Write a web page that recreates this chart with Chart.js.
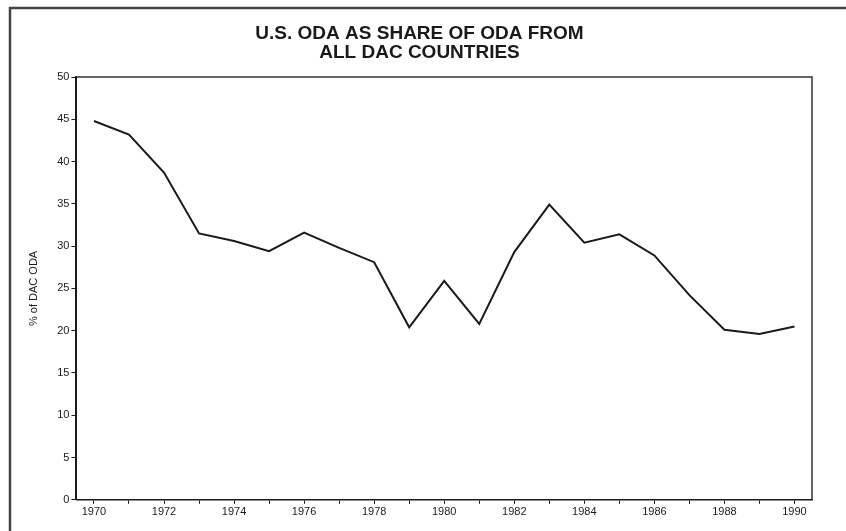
<!DOCTYPE html>
<html>
<head>
<meta charset="utf-8">
<script src="https://cdn.jsdelivr.net/npm/chart.js@4/dist/chart.umd.min.js"></script>
<style>
  html, body { margin: 0; padding: 0; background: #fff; }
  #wrap { width: 846px; height: 531px; position: relative; }
</style>
</head>
<body>
<div id="wrap"><canvas id="odaChart"></canvas></div>
<script>
// years on the x axis (labels shown every 2 years)
var years = ['1970', '1971', '1972', '1973', '1974', '1975', '1976', '1977', '1978', '1979', '1980',
             '1981', '1982', '1983', '1984', '1985', '1986', '1987', '1988', '1989', '1990'];
// U.S. share of DAC ODA, percent
var usShare = [44.8, 43.2, 38.7, 31.5, 30.6, 29.4, 31.6, 29.8, 28.1, 20.4, 25.9,
               20.8, 29.3, 34.9, 30.4, 31.4, 28.9, 24.2, 20.1, 19.6, 20.5];
var yTicks = { min: 0, max: 50, step: 5 };

var ink = '#1a1a1a';

// white page, box around plot area and the outer frame of the scan
var framePlugin = {
  id: 'frame',
  beforeDraw: function(chart) {
    var ctx = chart.ctx;
    ctx.save();
    ctx.fillStyle = '#fff';
    ctx.fillRect(0, 0, chart.width, chart.height);
    ctx.restore();
  },
  afterDraw: function(chart) {
    var ctx = chart.ctx;
    var a = chart.chartArea;
    ctx.save();
    ctx.strokeStyle = '#333';
    ctx.lineWidth = 1.5;
    ctx.beginPath();
    ctx.moveTo(a.left, a.top);
    ctx.lineTo(a.right, a.top);
    ctx.lineTo(a.right, a.bottom);
    ctx.stroke();
    // outer frame (only top and left edge are inside the picture)
    ctx.strokeStyle = '#444';
    ctx.lineWidth = 2.5;
    ctx.beginPath();
    ctx.moveTo(10, 560);
    ctx.lineTo(10, 8);
    ctx.lineTo(860, 8);
    ctx.stroke();
    ctx.restore();
  }
};

var ctx = document.getElementById('odaChart').getContext('2d');
new Chart(ctx, {
  type: 'line',
  data: {
    labels: years,
    datasets: [{
      label: 'U.S. ODA share',
      data: usShare,
      borderColor: ink,
      borderWidth: 2,
      pointRadius: 0,
      tension: 0,
      fill: false
    }]
  },
  options: {
    responsive: true,
    maintainAspectRatio: false,
    animation: false,
    layout: {
      padding: { left: 27, right: 34, top: 0, bottom: 10 }
    },
    plugins: {
      legend: { display: false },
      tooltip: { enabled: false },
      title: {
        display: true,
        text: ['U.S. ODA AS SHARE OF ODA FROM', 'ALL DAC COUNTRIES'],
        color: ink,
        font: { family: 'Liberation Sans', size: 19, weight: 'bold', lineHeight: 1.0 },
        padding: { top: 24, bottom: 15 }
      }
    },
    scales: {
      x: {
        type: 'category',
        offset: true,
        border: { color: ink, width: 1.5 },
        grid: { drawOnChartArea: false, tickLength: 4, color: ink, offset: false },
        ticks: {
          autoSkip: false,
          maxRotation: 0,
          color: ink,
          padding: 2,
          font: { family: 'Liberation Sans', size: 11 },
          callback: function(value, index) {
            return index % 2 === 0 ? this.getLabelForValue(value) : '';
          }
        }
      },
      y: {
        min: yTicks.min,
        max: yTicks.max,
        border: { color: ink, width: 2 },
        grid: { drawOnChartArea: false, tickLength: 5, color: ink },
        ticks: {
          stepSize: yTicks.step,
          color: ink,
          padding: 2,
          font: { family: 'Liberation Sans', size: 11 }
        },
        title: {
          display: true,
          text: '% of DAC ODA',
          color: ink,
          font: { family: 'Liberation Sans', size: 11 },
          padding: { top: 0, bottom: 15 }
        }
      }
    }
  },
  plugins: [framePlugin]
});
</script>
</body>
</html>
